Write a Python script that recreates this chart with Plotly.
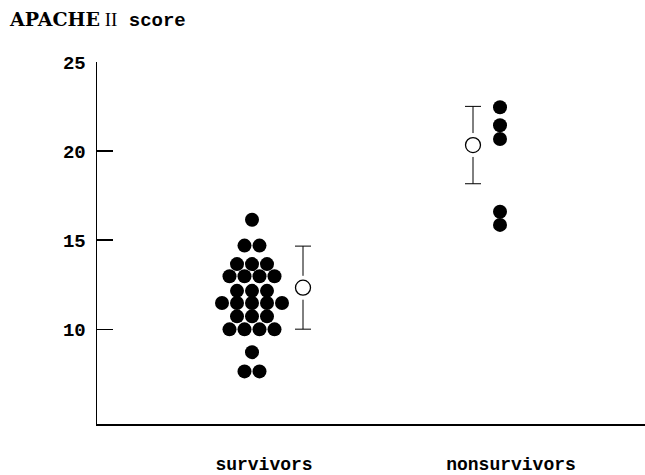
import plotly.graph_objects as go

# ---- data ----
groups = ["survivors", "nonsurvivors"]
survivors = [16.15,
             14.7, 14.7,
             13.66, 13.66, 13.66,
             12.98, 12.98, 12.98, 12.98,
             12.16, 12.16, 12.16,
             11.48, 11.48, 11.48, 11.48, 11.48,
             10.73, 10.73, 10.73,
             10.0, 10.0, 10.0, 10.0,
             8.72,
             7.64, 7.64]
nonsurvivors = [22.46, 21.45, 20.68, 16.6, 15.86]
means = [12.34, 20.34]
sds = [2.33, 2.17]
y_ticks = [10, 15, 20, 25]

# ---- layout positions (x axis in pixel-like units from the y axis) ----
dot_center = [155, 403]
mean_pos = [206, 376]
label_pos = [167, 414]
spacing = 15


def swarm(values, center):
    rows = {}
    for v in values:
        rows.setdefault(v, 0)
        rows[v] += 1
    xs, ys = [], []
    for v, n in rows.items():
        for i in range(n):
            xs.append(center + (i - (n - 1) / 2) * spacing)
            ys.append(v)
    return xs, ys


fig = go.Figure()
for vals, c in [(survivors, dot_center[0]), (nonsurvivors, dot_center[1])]:
    xs, ys = swarm(vals, c)
    fig.add_trace(go.Scatter(x=xs, y=ys, mode="markers",
                             marker=dict(size=14, color="black", line=dict(width=0)),
                             showlegend=False, hoverinfo="skip"))

# error bars with a white halo marker (gap between bar and circle)
fig.add_trace(go.Scatter(x=mean_pos, y=means, mode="markers",
                         marker=dict(size=24, color="white", line=dict(width=0)),
                         error_y=dict(type="data", array=sds, visible=True,
                                      color="black", thickness=1, width=8),
                         showlegend=False, hoverinfo="skip"))
fig.add_trace(go.Scatter(x=mean_pos, y=means, mode="markers",
                         marker=dict(size=15, color="white",
                                     line=dict(width=1.3, color="black")),
                         showlegend=False, hoverinfo="skip"))

mono = "Liberation Mono"
fig.update_layout(
    width=645, height=475,
    margin=dict(l=97, r=0, t=62, b=42),
    paper_bgcolor="white", plot_bgcolor="white",
    title=dict(
        text=("<span style='font-family:DejaVu Serif'><b>APACHE</b></span>"
              "<span style='font-family:Liberation Serif;font-weight:normal'> II</span>"
              "<span style='font-family:Liberation Mono'><b> score</b></span>"),
        xref="container", yref="container",
        x=10 / 645, xanchor="left", y=1 - 19 / 475, yanchor="middle",
        font=dict(size=19, color="black", family="DejaVu Serif"),
    ),
    xaxis=dict(range=[0, 548], showgrid=False, zeroline=False,
               showline=True, linecolor="black", linewidth=2,
               tickmode="array", tickvals=label_pos, ticktext=groups,
               ticks="", ticklabelstandoff=22,
               tickfont=dict(family=mono, size=18, color="black", weight="bold")),
    yaxis=dict(range=[4.69, 25], showgrid=False, zeroline=False,
               showline=True, linecolor="black", linewidth=1.5,
               tickmode="array", tickvals=y_ticks,
               ticks="inside", ticklen=16, tickwidth=1.5, tickcolor="black",
               ticklabelstandoff=6,
               tickfont=dict(family=mono, size=19, color="black", weight="bold")),
)

fig.write_html("out.html",
               config={"displayModeBar": False, "staticPlot": True},
               post_script="document.body.style.margin='0px';"
                           "document.body.style.overflow='hidden';")
